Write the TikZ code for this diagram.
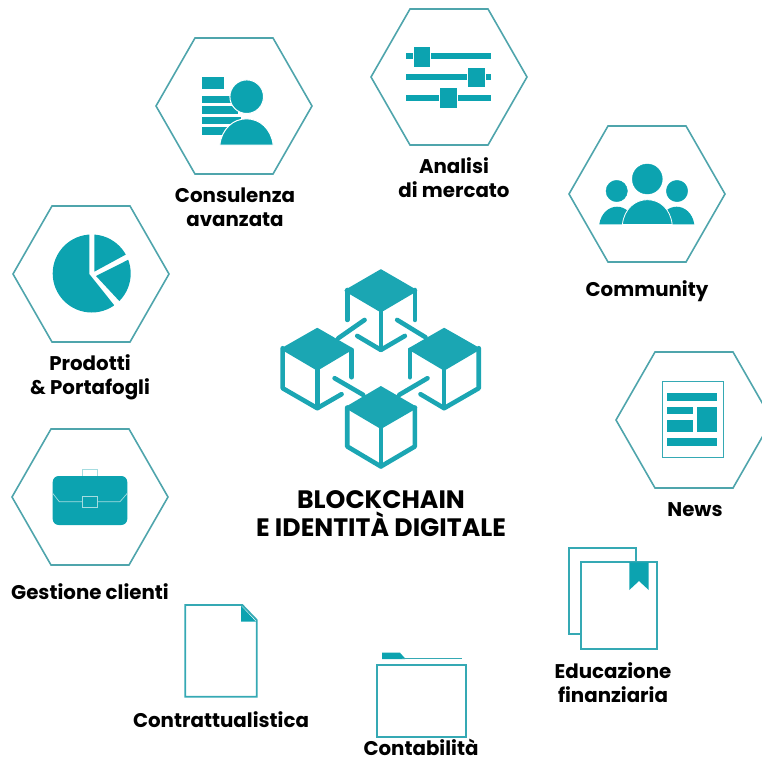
\documentclass[tikz,border=0pt]{standalone}
\usepackage{fontspec}
\setmainfont{Poppins}
\newfontfamily\labfont{Poppins}[UprightFont=* Bold]
\definecolor{hexline}{HTML}{4FA5AC}
\definecolor{iconfill}{HTML}{0CA3B0}
\definecolor{cubefill}{HTML}{1BA6B3}
\definecolor{thinline}{HTML}{35A9B4}
\definecolor{paleline}{HTML}{A5DCE0}
\tikzset{
  hexshape/.style={draw=hexline,line width=1.6pt,line join=miter},
  halo/.style={fill=iconfill,draw=white,line width=1pt},
  outlineicon/.style={draw=thinline,line width=1.8pt},
  cubeline/.style={draw=cubefill,line width=4.6pt,line cap=round,line join=round},
  cubetop/.style={fill=cubefill,draw=cubefill,line width=1.5pt,line join=round},
  lab/.style={font=\labfont\fontsize{19.8}{24}\selectfont,text=black,align=center,inner sep=0pt},
  biglab/.style={font=\labfont\fontsize{25.2}{28}\selectfont,text=black,align=center,inner sep=0pt}
}
\newcommand{\hexat}[2]{\draw[hexshape] (#1-78,#2) -- (#1-39,#2-68) -- (#1+39,#2-68) -- (#1+78,#2) -- (#1+39,#2+68) -- (#1-39,#2+68) -- cycle;}
\begin{document}
\begin{tikzpicture}[x=1pt,y=-1pt]
\useasboundingbox (0,0) rectangle (761,761);
% hexagons
\hexat{234}{106}
\hexat{449}{77}
\hexat{647}{194}
\hexat{694}{420}
\hexat{91}{274}
\hexat{90}{497}
% Consulenza icon
\fill[iconfill] (201.7,77.3) rectangle (224,89.3);
\fill[iconfill] (201.7,95.7) rectangle (232,103.3);
\fill[iconfill] (201.7,106) rectangle (238,114.3);
\fill[iconfill] (201.7,116.7) rectangle (241,124);
\fill[iconfill] (201.7,126.7) rectangle (232,135);
\draw[halo] (246.7,96.7) circle (16.8);
\draw[halo] (219.9,145) -- (219.9,144.3) .. controls (222,129) and (233,118.8) .. (246.5,118.8) .. controls (260,118.8) and (271,129) .. (273.1,144.3) -- (273.1,145) -- cycle;
% Analisi icon
\fill[iconfill] (406,53) rectangle (490.7,59);
\fill[iconfill] (406,74) rectangle (490.7,80);
\fill[iconfill] (406,94.7) rectangle (490.7,100.7);
\draw[halo] (413,46.5) rectangle (430.5,67);
\draw[halo] (467.8,67) rectangle (485.3,87.5);
\draw[halo] (439.8,87.5) rectangle (457,108);
% Community icon
\fill[iconfill] (599.3,224.3) .. controls (601,213) and (609,206.7) .. (617,206.7) .. controls (625,206.7) and (633,213) .. (635,224.3) -- cycle;
\fill[iconfill] (694.3,224.3) .. controls (692.6,213) and (684.6,206.7) .. (676.6,206.7) .. controls (668.6,206.7) and (660.6,213) .. (658.6,224.3) -- cycle;
\draw[iconfill,fill=iconfill] (616.7,191) circle (10.7);
\draw[iconfill,fill=iconfill] (677,191) circle (10.7);
\draw[iconfill,fill=iconfill] (647.3,179) circle (15);
\draw[fill=iconfill,draw=white,line width=.8pt] (622.4,224.6) .. controls (624,209) and (635,199.7) .. (647.3,199.7) .. controls (660,199.7) and (670.5,209) .. (672.2,224.6) -- cycle;
\fill[white] (598,224.6) rectangle (696,226);
% News icon
\draw[thinline,line width=1.1pt] (662.3,381.7) rectangle (723.7,457.3);
\fill[iconfill] (666.7,393.3) rectangle (717,401);
\fill[iconfill] (666.7,406.7) rectangle (693.3,414.3);
\fill[iconfill] (666.7,420) rectangle (693.3,432.3);
\fill[iconfill] (697.3,406.7) rectangle (717,432.3);
\fill[iconfill] (666.7,438.3) rectangle (717,446);
% Pie icon
\begin{scope}
\clip (91.7,273.5) circle (39);
\fill[iconfill] (89.3,274) -- (89.3,225) -- (45,225) -- (45,325) -- (130,325) -- cycle;
\fill[iconfill] (94.3,271.7) -- (94.3,225) -- (155.7,225) -- (155.7,238.3) -- cycle;
\fill[iconfill] (96,276) -- (159.4,244) -- (160,326) -- (142.6,326) -- cycle;
\end{scope}
% Briefcase icon
\draw[paleline,line width=.8pt] (82.3,476) -- (82.3,469.3) -- (97.7,469.3) -- (97.7,476);
\fill[iconfill,rounded corners=6pt] (52.7,476) rectangle (127.3,525);
\draw[paleline,line width=.7pt] (52.7,493.3) -- (59.3,501.7) -- (82.3,501.7) (97.7,501.7) -- (120,501.7) -- (127.3,493.3);
\draw[paleline,line width=.8pt] (82.3,496) rectangle (97.7,507.3);
% Document icon
\draw[outlineicon,line join=miter] (185.3,605) -- (242.3,605) -- (256.7,620) -- (256.7,696.7) -- (185.3,696.7) -- cycle;
\fill[iconfill] (241,605.7) -- (241,621.7) -- (256,621.7) -- cycle;
% Folder icon
\draw[outlineicon] (376.7,665) rectangle (466,736.7);
\fill[iconfill] (382,652.7) -- (400,652.7) -- (405,658.3) -- (405,659) -- (382,659) -- cycle;
\draw[outlineicon,line width=1.2pt] (402,658.3) -- (462,658.3);
% Books icon
\draw[outlineicon] (635.7,562.3) -- (635.7,548.3) -- (568.7,548.3) -- (568.7,634.3) -- (580.7,634.3);
\draw[outlineicon] (580.7,562.3) rectangle (657.3,649);
\fill[iconfill] (629.3,562.3) -- (648.7,562.3) -- (648.7,590) -- (639,581) -- (629.3,590) -- cycle;
% Blockchain cubes (units: 1/3 px, origin 260,260)
\begin{scope}[shift={(260,260)},x=.333pt,y=-.333pt]
\draw[cubeline] (262,90) -- (262,180);
\draw[cubeline] (465,90) -- (465,180);
\draw[cubeline] (363,150) -- (363,270);
\draw[cubeline] (292,228) -- (363,270) -- (435,228);
\fill[cubetop] (363,30) -- (470,92) -- (363,155) -- (256,92) -- cycle;
\draw[cubeline] (235,235) -- (314,180);
\draw[cubeline] (412,180) -- (497,232);
\draw[cubeline] (224,355) -- (310,405);
\draw[cubeline] (503,355) -- (418,405);
\draw[cubeline] (275,270) -- (275,352);
\draw[cubeline] (68,265) -- (68,385) -- (172,445) -- (245,403);
\draw[cubeline] (172,325) -- (172,445);
\fill[cubetop] (172,206) -- (278,267) -- (172,330) -- (65,267) -- cycle;
\draw[cubeline] (450,270) -- (450,352);
\draw[cubeline] (657,265) -- (657,385) -- (553,445) -- (482,403);
\draw[cubeline] (553,325) -- (553,445);
\fill[cubetop] (553,206) -- (660,267) -- (553,330) -- (447,267) -- cycle;
\draw[cubeline] (262,443) -- (262,560) -- (363,620) -- (465,560) -- (465,443);
\draw[cubeline] (363,500) -- (363,620);
\fill[cubetop] (363,381) -- (470,443) -- (363,505) -- (258,443) -- cycle;
\end{scope}
% Labels
\node[lab] (consulenza) at (235,207) {Consulenza\\avanzata};
\node[lab] (analisi) at (454,178) {Analisi\\di mercato};
\node[lab] (community) at (647,291) {Community};
\node[lab] (prodotti) at (90,377) {Prodotti\\\& Portafogli};
\node[lab] (gestione) at (90,592) {Gestione clienti};
\node[lab] (news) at (695,510) {News};
\node[lab] (educazione) at (613,683) {Educazione\\finanziaria};
\node[lab] (contabilita) at (421,747) {Contabilità};
\node[lab] (contratti) at (221,720) {Contrattualistica};
\node[biglab] (blockchain) at (381,514) {BLOCKCHAIN\\E IDENTITÀ DIGITALE};
\end{tikzpicture}
\end{document}
